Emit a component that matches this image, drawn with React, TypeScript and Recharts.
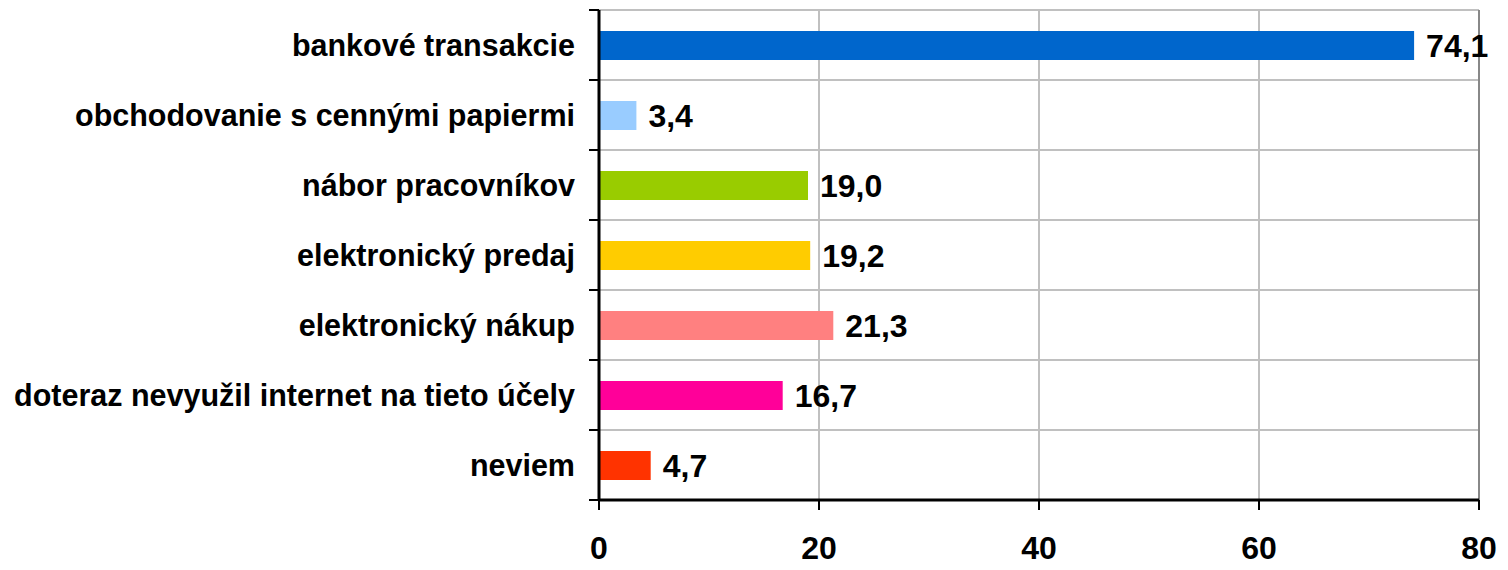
import { BarChart, Bar, XAxis, YAxis, CartesianGrid, Cell, LabelList, ReferenceLine } from "recharts";

const categories = [
  "bankové transakcie",
  "obchodovanie s cennými papiermi",
  "nábor pracovníkov",
  "elektronický predaj",
  "elektronický nákup",
  "doteraz nevyužil internet na tieto účely",
  "neviem",
];
const values = [74.1, 3.4, 19.0, 19.2, 21.3, 16.7, 4.7];
const colors = ["#0066CC", "#99CCFF", "#99CC00", "#FFCC00", "#FF8080", "#FF0099", "#FF3300"];
const xTicks = [0, 20, 40, 60, 80];

const data = categories.map((name, i) => ({ name, value: values[i], fill: colors[i] }));

const font = "'Liberation Sans', Arial, sans-serif";
const band = 70;

const CategoryTick = (props: any) => {
  const { x, y, payload, index } = props;
  return (
    <g>
      <text x={x - 24} y={y} dy="0.35em" textAnchor="end" fontFamily={font} fontWeight="bold" fontSize={30.5} fill="#000">
        {payload.value}
      </text>
      <line x1={x - 10} x2={x} y1={y + band / 2} y2={y + band / 2} stroke="#000" strokeWidth={2} />
      {index === 0 && <line x1={x - 10} x2={x} y1={y - band / 2} y2={y - band / 2} stroke="#000" strokeWidth={2} />}
    </g>
  );
};

const ValueTick = (props: any) => {
  const { x, y, payload } = props;
  return (
    <text x={x} y={y + 47} textAnchor="middle" fontFamily={font} fontWeight="bold" fontSize={32} fill="#000">
      {payload.value}
    </text>
  );
};

export default function App() {
  return (
    <BarChart
      width={1500}
      height={560}
      data={data}
      layout="vertical"
      margin={{ top: 2, right: 29, bottom: 0, left: 0 }}
      barCategoryGap={0}
    >
      <CartesianGrid
        stroke="#c0c0c0"
        strokeWidth={2}
        horizontalCoordinatesGenerator={({ offset }: any) =>
          categories.map((_, i) => offset.top + (i * offset.height) / categories.length)
        }
      />
      <ReferenceLine x={80} stroke="#888" strokeWidth={2} />
      <XAxis
        type="number"
        domain={[0, 80]}
        ticks={xTicks}
        height={68}
        axisLine={{ stroke: "#000", strokeWidth: 3 }}
        tickLine={{ stroke: "#000", strokeWidth: 2 }}
        tickSize={10}
        tick={<ValueTick />}
        interval={0}
      />
      <YAxis
        type="category"
        dataKey="name"
        width={591}
        axisLine={{ stroke: "#000", strokeWidth: 3 }}
        tickLine={false}
        tickSize={0}
        tickMargin={0}
        tick={<CategoryTick />}
        interval={0}
      />
      <Bar dataKey="value" barSize={29} isAnimationActive={false}>
        {data.map((d) => (
          <Cell key={d.name} fill={d.fill} />
        ))}
        <LabelList
          dataKey="value"
          position="right"
          offset={12}
          formatter={(v: any) => Number(v).toFixed(1).replace(".", ",")}
          style={{ fontFamily: font, fontWeight: "bold", fontSize: 32, fill: "#000" }}
        />
      </Bar>
    </BarChart>
  );
}
